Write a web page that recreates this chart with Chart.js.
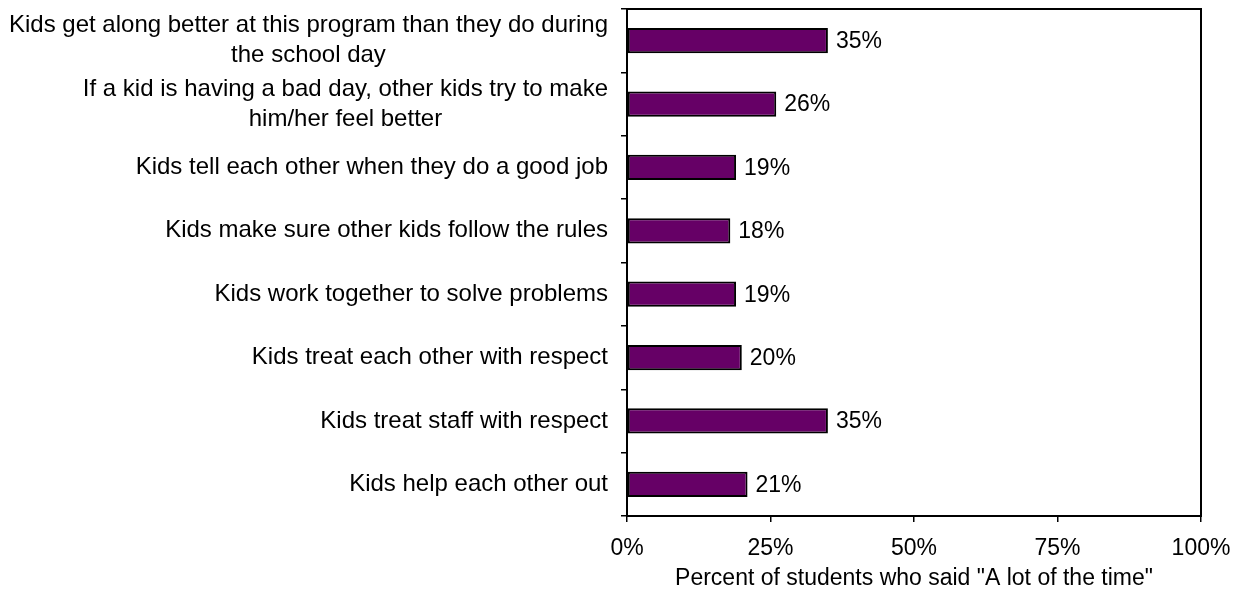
<!DOCTYPE html>
<html>
<head>
<meta charset="utf-8">
<title>Peer relations</title>
<script src="https://cdn.jsdelivr.net/npm/chart.js@4/dist/chart.umd.min.js"></script>
<style>
  html, body { margin: 0; padding: 0; background: #fff; }
  #wrap { width: 1241px; height: 593px; position: relative; }
</style>
</head>
<body>
<div id="wrap"><canvas id="peerChart"></canvas></div>
<script>
// Statements, top to bottom
const statements = [
  ['Kids get along better at this program than they do during', 'the school day'],
  ['If a kid is having a bad day, other kids try to make', 'him/her feel better'],
  'Kids tell each other when they do a good job',
  'Kids make sure other kids follow the rules',
  'Kids work together to solve problems',
  'Kids treat each other with respect',
  'Kids treat staff with respect',
  'Kids help each other out'
];

// Percent answering "A lot of the time"
const percentALot = [35, 26, 19, 18, 19, 20, 35, 21];

const percentTicks = [0, 25, 50, 75, 100];

const FONT = "'Liberation Sans', Arial, sans-serif";
const FONT_SIZE = 23;
const LABEL_SIZE = 24;
const LABEL_LINE = 30;
const LABEL_RIGHT = 608;

Chart.defaults.font.family = FONT;
Chart.defaults.font.size = FONT_SIZE;
Chart.defaults.color = '#000';

// category labels: right aligned block, wrapped lines centred on each other
const categoryLabels = {
  id: 'categoryLabels',
  afterDraw(chart) {
    const { ctx, scales: { y } } = chart;
    ctx.save();
    ctx.font = LABEL_SIZE + 'px ' + FONT;
    ctx.fillStyle = '#000';
    ctx.textBaseline = 'middle';
    ctx.textAlign = 'center';
    statements.forEach((label, i) => {
      const lines = Array.isArray(label) ? label : [label];
      const w = Math.max(...lines.map(l => ctx.measureText(l).width));
      const cx = LABEL_RIGHT - w / 2;
      const cy = y.getPixelForTick(i);
      lines.forEach((line, j) => {
        ctx.fillText(line, cx, cy + (j - (lines.length - 1) / 2) * LABEL_LINE);
      });
    });
    ctx.restore();
  }
};

// value labels just past the end of each bar
const valueLabels = {
  id: 'valueLabels',
  afterDatasetsDraw(chart) {
    const { ctx } = chart;
    const meta = chart.getDatasetMeta(0);
    ctx.save();
    ctx.font = FONT_SIZE + 'px ' + FONT;
    ctx.fillStyle = '#000';
    ctx.textAlign = 'left';
    ctx.textBaseline = 'middle';
    meta.data.forEach((bar, i) => {
      ctx.fillText(percentALot[i] + '%', bar.x + 8, bar.y + 1);
    });
    ctx.restore();
  }
};

// box round the plot area
const plotFrame = {
  id: 'plotFrame',
  afterDraw(chart) {
    const { ctx, chartArea: a } = chart;
    ctx.save();
    ctx.strokeStyle = '#000';
    ctx.lineWidth = 2;
    ctx.strokeRect(a.left, a.top, a.right - a.left, a.bottom - a.top);
    ctx.restore();
  }
};

new Chart(document.getElementById('peerChart'), {
  type: 'bar',
  data: {
    labels: statements,
    datasets: [{
      data: percentALot,
      backgroundColor: '#660066',
      borderColor: '#000',
      borderWidth: 2,
      borderSkipped: false,
      barPercentage: 0.4,
      categoryPercentage: 1
    }]
  },
  options: {
    indexAxis: 'y',
    responsive: true,
    maintainAspectRatio: false,
    animation: false,
    layout: { padding: { top: 9, right: 40, bottom: 0, left: 0 } },
    plugins: {
      legend: { display: false },
      tooltip: { enabled: false }
    },
    scales: {
      x: {
        min: 0,
        max: 100,
        afterBuildTicks: s => { s.ticks = percentTicks.map(v => ({ value: v })); },
        afterFit: s => { s.height = 77; s.paddingLeft = 0; s.paddingRight = 0; },
        ticks: {
          padding: 13,
          maxRotation: 0,
          callback: v => v + '%'
        },
        grid: {
          drawOnChartArea: false,
          drawTicks: true,
          tickLength: 6,
          color: '#000',
          lineWidth: 1.5
        },
        border: { display: false },
        title: {
          display: true,
          text: 'Percent of students who said "A lot of the time"',
          padding: { top: 0, bottom: 1 }
        }
      },
      y: {
        afterFit: s => { s.width = 627; s.paddingTop = 0; s.paddingBottom = 0; },
        ticks: { display: false },
        grid: {
          offset: true,
          drawOnChartArea: false,
          drawTicks: true,
          tickLength: 6,
          color: '#000',
          lineWidth: 1.5
        },
        border: { display: false }
      }
    }
  },
  plugins: [categoryLabels, valueLabels, plotFrame]
});
</script>
</body>
</html>
